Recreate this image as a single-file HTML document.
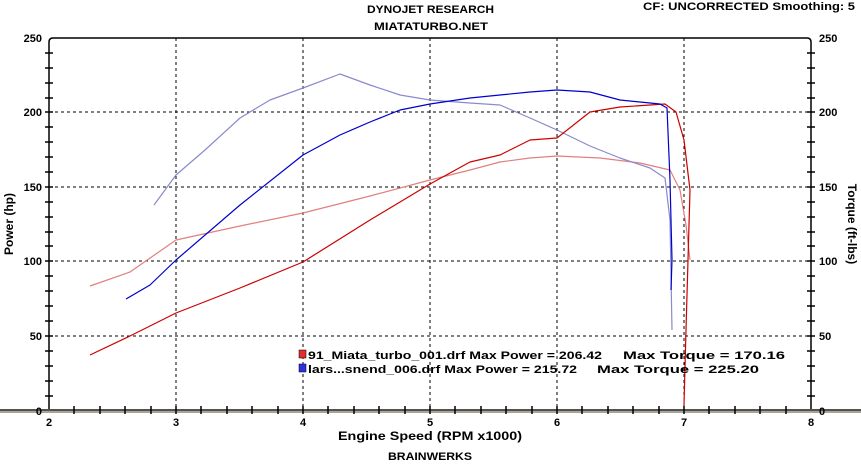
<!DOCTYPE html>
<html><head><style>
body{margin:0;background:#fff;width:861px;height:463px;overflow:hidden}
text{font-family:"Liberation Sans",sans-serif;font-weight:bold;font-size:11px;fill:#000}
</style></head><body>
<svg width="861" height="463" viewBox="0 0 861 463">
<text x="367" y="13" textLength="127" lengthAdjust="spacingAndGlyphs">DYNOJET RESEARCH</text>
<text x="374" y="30" textLength="114" lengthAdjust="spacingAndGlyphs">MIATATURBO.NET</text>
<text x="643" y="10" textLength="212" lengthAdjust="spacingAndGlyphs">CF: UNCORRECTED  Smoothing: 5</text>
<path d="M49,411 V42 Q49,38 53,38 H807 Q811,38 811,42 V411" fill="none" stroke="#000" stroke-width="1.5"/>
<rect x="0" y="409" width="861" height="4" fill="#a8a49a"/>
<line x1="0" y1="410" x2="861" y2="410" stroke="#000" stroke-width="1"/>
<g stroke="#000" stroke-dasharray="3,3" stroke-width="1">
<line x1="176" y1="38" x2="176" y2="410"/><line x1="303" y1="38" x2="303" y2="410"/>
<line x1="430" y1="38" x2="430" y2="410"/><line x1="557" y1="38" x2="557" y2="410"/>
<line x1="684" y1="38" x2="684" y2="410"/>
<line x1="49" y1="112" x2="811" y2="112"/><line x1="49" y1="187" x2="811" y2="187"/>
<line x1="49" y1="261" x2="811" y2="261"/><line x1="49" y1="336" x2="811" y2="336"/>
</g>
<g stroke="#000" stroke-width="1.5">
<path d="M45,53H53M45,68H53M45,83H53M45,98H53M45,127H53M45,142H53M45,157H53M45,172H53M45,202H53M45,217H53M45,232H53M45,246H53M45,276H53M45,291H53M45,306H53M45,321H53M45,351H53M45,366H53M45,381H53M45,396H53M45,112H53M45,187H53M45,261H53M45,336H53"/>
<path d="M807,53H815M807,68H815M807,83H815M807,98H815M807,127H815M807,142H815M807,157H815M807,172H815M807,202H815M807,217H815M807,232H815M807,246H815M807,276H815M807,291H815M807,306H815M807,321H815M807,351H815M807,366H815M807,381H815M807,396H815M807,112H815M807,187H815M807,261H815M807,336H815"/>
<path d="M74,406V414M100,406V414M125,406V414M151,406V414M201,406V414M227,406V414M252,406V414M278,406V414M328,406V414M354,406V414M379,406V414M405,406V414M455,406V414M481,406V414M506,406V414M532,406V414M582,406V414M608,406V414M633,406V414M659,406V414M709,406V414M735,406V414M760,406V414M786,406V414M176,406V414M303,406V414M430,406V414M557,406V414M684,406V414"/>
</g>
<g text-anchor="end">
<text x="42" y="42">250</text><text x="42" y="116">200</text><text x="42" y="191">150</text>
<text x="42" y="265">100</text><text x="42" y="340">50</text><text x="42" y="415">0</text>
</g>
<g>
<text x="819" y="42">250</text><text x="819" y="116">200</text><text x="819" y="191">150</text>
<text x="819" y="265">100</text><text x="819" y="340">50</text><text x="819" y="415">0</text>
</g>
<g text-anchor="middle">
<text x="49" y="426">2</text><text x="176" y="426">3</text><text x="303" y="426">4</text><text x="430" y="426">5</text>
<text x="557" y="426">6</text><text x="684" y="426">7</text><text x="811" y="426">8</text>
</g>
<text x="338" y="440" style="font-size:12px" textLength="184" lengthAdjust="spacingAndGlyphs">Engine Speed (RPM x1000)</text>
<text x="388" y="460" textLength="84" lengthAdjust="spacingAndGlyphs">BRAINWERKS</text>
<text transform="translate(13,224) rotate(-90)" text-anchor="middle" style="font-size:12px">Power (hp)</text>
<text transform="translate(848,224) rotate(90)" text-anchor="middle" style="font-size:12px">Torque (ft-lbs)</text>
<g fill="none" stroke-width="1.2" stroke-linejoin="round">
<path stroke="#e08080" d="M90,286 L130,272 L176,240 L240,226 L303,213 L370,196 L430,180 L470,170 L500,162 L530,158 L557,156 L600,158 L640,163 L670,170 L680,190 L686,225 L690,260"/>
<path stroke="#8a8acc" d="M154,205 L176,175 L205,150 L240,118 L270,100 L303,88 L340,74 L370,85 L400,95 L430,100 L470,103 L500,105 L530,118 L557,130 L590,146 L620,158 L650,168 L665,178 L670,220 L672,330"/>
<path stroke="#cc0000" d="M90,355 L130,336 L176,313 L240,288 L303,262 L370,220 L430,184 L470,162 L500,155 L530,140 L557,138 L590,112 L620,107 L665,104 L676,112 L684,140 L690,190 L688,260 L686,330 L684,405"/>
<path stroke="#0000cc" d="M126,299 L150,285 L176,260 L240,205 L303,155 L340,135 L370,122 L400,110 L430,104 L470,98 L500,95 L530,92 L557,90 L590,92 L620,100 L660,104 L667,108 L670,180 L672,260 L671,290"/>
</g>
<rect x="299" y="350" width="7" height="8" fill="#e03030" stroke="#000" stroke-width="0.5"/>
<rect x="299" y="364" width="7" height="8" fill="#3030e0" stroke="#000" stroke-width="0.5"/>
<text x="308" y="359" textLength="294" lengthAdjust="spacingAndGlyphs">91_Miata_turbo_001.drf Max Power = 206.42</text>
<text x="623" y="359" textLength="162" lengthAdjust="spacingAndGlyphs">Max Torque = 170.16</text>
<text x="308" y="373" textLength="269" lengthAdjust="spacingAndGlyphs">lars...snend_006.drf Max Power = 215.72</text>
<text x="597" y="373" textLength="162" lengthAdjust="spacingAndGlyphs">Max Torque = 225.20</text>
</svg>
</body></html>
